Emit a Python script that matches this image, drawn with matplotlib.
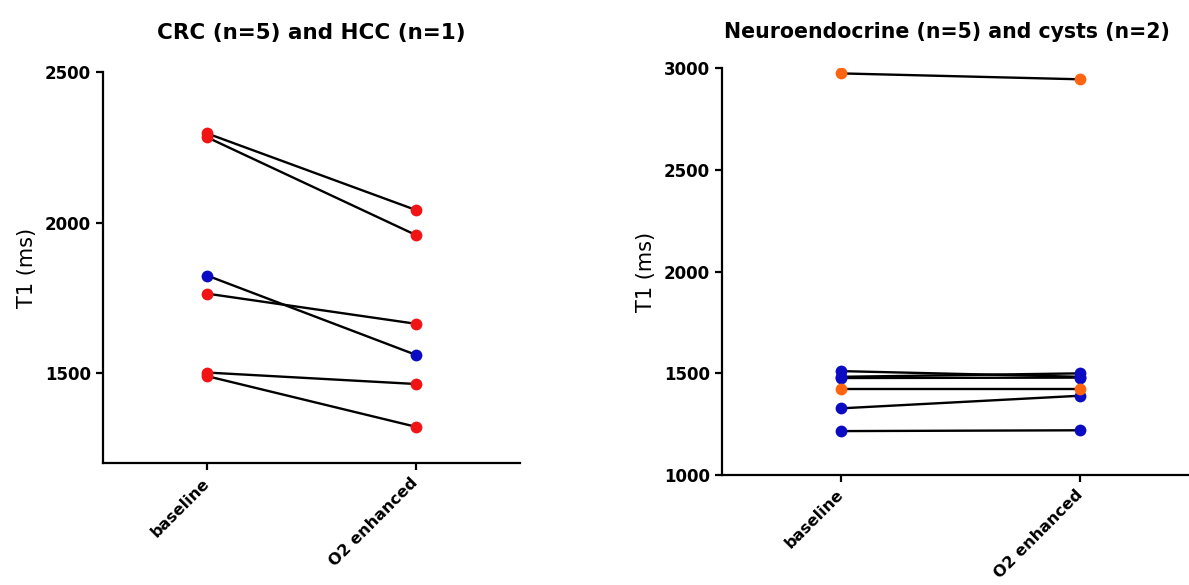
import matplotlib.pyplot as plt
from matplotlib.transforms import ScaledTranslation

# values (T1 in ms)
conditions = ['baseline', 'O2 enhanced']

crc_base = [2296, 2283, 1764, 1502, 1490]
crc_o2 = [2042, 1959, 1664, 1464, 1322]
hcc_base = [1824]
hcc_o2 = [1561]

neuro_base = [1511, 1483, 1477, 1328, 1216]
neuro_o2 = [1483, 1500, 1479, 1390, 1220]
cyst_base = [2975, 1423]
cyst_o2 = [2946, 1423]

red = '#f21414'
blue = '#0b0bc4'
orange = '#ff6411'


def pairs(ax, base, o2, color):
    for b, o in zip(base, o2):
        ax.plot([0, 1], [b, o], color='black', lw=1.7, zorder=2)
    ax.plot([0] * len(base), base, 'o', color=color, ms=8.5, mec='none', zorder=3)
    ax.plot([1] * len(o2), o2, 'o', color=color, ms=8.5, mec='none', zorder=3)


def style(ax, title, pad, tsize):
    ax.spines['top'].set_visible(False)
    ax.spines['right'].set_visible(False)
    ax.spines['left'].set_linewidth(1.6)
    ax.spines['bottom'].set_linewidth(1.6)
    ax.tick_params(width=1.6, length=5, labelsize=12)
    ax.set_xlim(-0.5, 1.5)
    ax.set_xticks([0, 1])
    ax.set_xticklabels(conditions, rotation=45, ha='right', va='top',
                       rotation_mode='anchor', fontweight='bold', fontsize=11.5)
    shift = ScaledTranslation(-4 / 72, 0, fig.dpi_scale_trans)
    for lab in ax.get_xticklabels():
        lab.set_transform(lab.get_transform() + shift)
    for lab in ax.get_yticklabels():
        lab.set_fontweight('bold')
    ax.set_ylabel('T1 (ms)', fontsize=15, labelpad=6)
    ax.set_title(title, fontsize=tsize, fontweight='bold', pad=pad)


fig = plt.figure(figsize=(11.89, 5.85), dpi=100)

ax1 = fig.add_axes([0.0866, 0.2077, 0.3507, 0.6692])
pairs(ax1, crc_base, crc_o2, red)
pairs(ax1, hcc_base, hcc_o2, blue)
ax1.set_ylim(1200, 2500)
ax1.set_yticks([1500, 2000, 2500])
style(ax1, 'CRC (n=5) and HCC (n=1)', 24, 15.5)

ax2 = fig.add_axes([0.6072, 0.1880, 0.4020, 0.6952])
pairs(ax2, neuro_base, neuro_o2, blue)
pairs(ax2, cyst_base, cyst_o2, orange)
ax2.set_ylim(1000, 3000)
ax2.set_yticks([1000, 1500, 2000, 2500, 3000])
style(ax2, 'Neuroendocrine (n=5) and cysts (n=2)', 21.5, 14.8)
ax2.title.set_x(0.47)

fig.savefig('out.png', dpi=100)
